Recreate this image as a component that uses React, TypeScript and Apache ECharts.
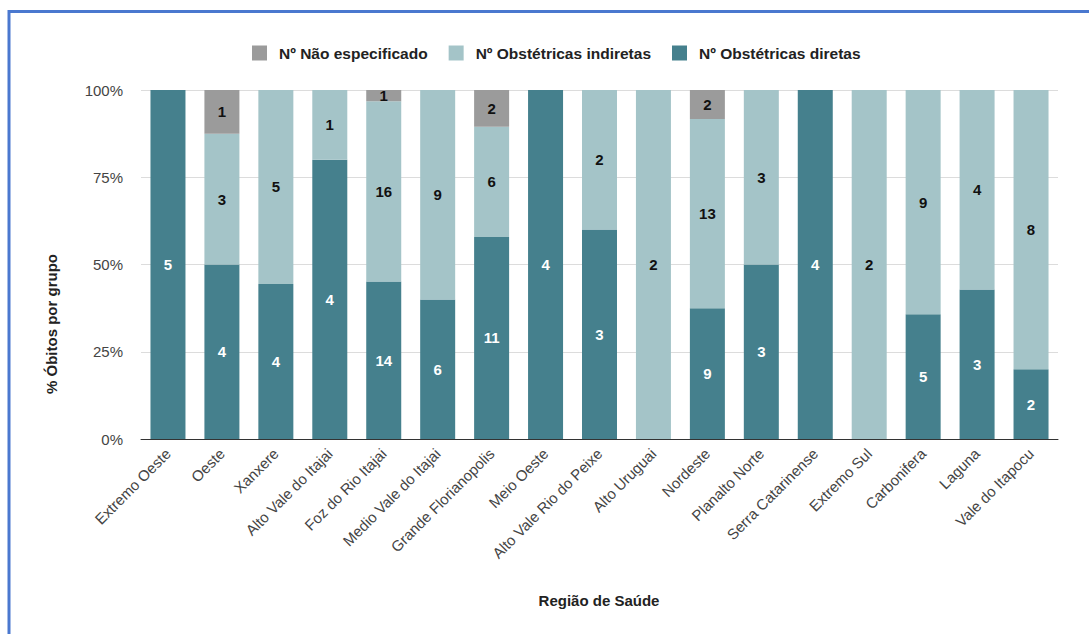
import React, { useEffect, useRef } from "react";
import * as echarts from "echarts";

const categories = [
  "Extremo Oeste", "Oeste", "Xanxere", "Alto Vale do Itajai", "Foz do Rio Itajai",
  "Medio Vale do Itajai", "Grande Florianopolis", "Meio Oeste", "Alto Vale Rio do Peixe",
  "Alto Uruguai", "Nordeste", "Planalto Norte", "Serra Catarinense", "Extremo Sul",
  "Carbonifera", "Laguna", "Vale do Itapocu",
];
const diretas = [5, 4, 4, 4, 14, 6, 11, 4, 3, 0, 9, 3, 4, 0, 5, 3, 2];
const indiretas = [0, 3, 5, 1, 16, 9, 6, 0, 2, 2, 13, 3, 0, 2, 9, 4, 8];
const naoEspecificado = [0, 1, 0, 0, 1, 0, 2, 0, 0, 0, 2, 0, 0, 0, 0, 0, 0];
const seriesNames = ["Nº Não especificado", "Nº Obstétricas indiretas", "Nº Obstétricas diretas"];
const yMin = 0;
const yMax = 100;
const yInterval = 25;

const FONT = "'Liberation Sans', Arial, sans-serif";

export default function App() {
  const ref = useRef<HTMLDivElement>(null);
  useEffect(() => {
    if (!ref.current) return;
    const chart = echarts.init(ref.current, undefined, { renderer: "svg" });
    const totals = categories.map((_, i) => diretas[i] + indiretas[i] + naoEspecificado[i]);
    const toData = (arr: number[]) =>
      arr.map((c, i) => ({ value: totals[i] ? (c / totals[i]) * 100 : 0, count: c }));
    const mk = (name: string, arr: number[], color: string, labelColor: string) => ({
      name,
      type: "bar",
      stack: "total",
      barWidth: 35,
      data: toData(arr),
      itemStyle: { color },
      label: {
        show: true,
        position: "inside",
        color: labelColor,
        fontFamily: FONT,
        fontWeight: "bold",
        fontSize: 15,
        formatter: (p: any) => (p.data.count ? String(p.data.count) : ""),
      },
    });
    chart.setOption({
      animation: false,
      textStyle: { fontFamily: FONT },
      legend: {
        data: seriesNames,
        top: 40,
        left: 247,
        itemWidth: 15,
        itemHeight: 15,
        itemGap: 21,
        icon: "rect",
        textStyle: { fontFamily: FONT, fontSize: 15.5, fontWeight: "bold", color: "#222", padding: [0, 0, 0, 7] },
      },
      grid: { left: 141, right: 31, top: 90, bottom: 195 },
      xAxis: {
        type: "category",
        data: categories,
        axisTick: { show: false },
        axisLine: { lineStyle: { color: "#333" } },
        axisLabel: { rotate: 45, interval: 0, color: "#444", fontSize: 15, margin: 12, fontFamily: FONT },
      },
      yAxis: {
        type: "value",
        min: yMin,
        max: yMax,
        interval: yInterval,
        axisLabel: { formatter: "{value}%", color: "#444", fontSize: 15, margin: 18, fontFamily: FONT },
        splitLine: { lineStyle: { color: "#dcdcdc" } },
      },
      series: [
        mk(seriesNames[2], diretas, "#45808D", "#ffffff"),
        mk(seriesNames[1], indiretas, "#A4C4C8", "#111111"),
        mk(seriesNames[0], naoEspecificado, "#9B9B9B", "#111111"),
      ],
      graphic: [
        {
          type: "rect",
          shape: { x: 9, y: 11.5, width: 1200, height: 800 },
          style: { fill: "none", stroke: "#4A78CF", lineWidth: 3 },
          silent: true,
        },
        {
          type: "text",
          x: 51,
          y: 324,
          rotation: Math.PI / 2,
          style: {
            text: "% Óbitos por grupo",
            fontFamily: FONT,
            fontSize: 15,
            fontWeight: "bold",
            fill: "#222",
            textAlign: "center",
            textVerticalAlign: "middle",
          },
        },
        {
          type: "text",
          x: 599,
          y: 600,
          style: {
            text: "Região de Saúde",
            fontFamily: FONT,
            fontSize: 15,
            fontWeight: "bold",
            fill: "#222",
            textAlign: "center",
            textVerticalAlign: "middle",
          },
        },
      ],
    });
    return () => chart.dispose();
  }, []);
  return (
    <div
      ref={ref}
      style={{ position: "absolute", left: 0, top: 0, width: 1089, height: 634, background: "#fff" }}
    />
  );
}
